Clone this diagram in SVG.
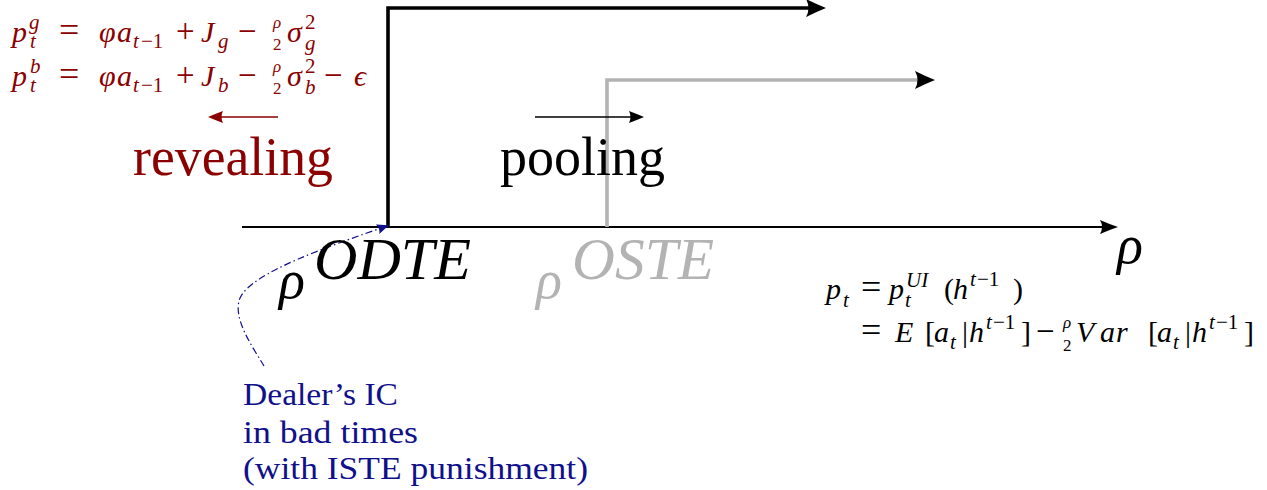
<svg xmlns="http://www.w3.org/2000/svg" width="1267" height="490" viewBox="0 0 1267 490">
<defs>
<marker id="ahBig" viewBox="0 0 20 18" refX="12" refY="9" markerWidth="20" markerHeight="18" markerUnits="userSpaceOnUse" orient="auto">
<path d="M0,0 Q10,5 20,9 Q10,13 0,18 Q5,9 0,0 Z" fill="#000"/>
</marker>
<marker id="ahAxis" viewBox="0 0 18 14" refX="10" refY="7" markerWidth="18" markerHeight="14" markerUnits="userSpaceOnUse" orient="auto">
<path d="M0,0 Q9,4 18,7 Q9,10 0,14 Q4,7 0,0 Z" fill="#000"/>
</marker>
<marker id="ahSmall" viewBox="0 0 15 12" refX="8" refY="6" markerWidth="15" markerHeight="12" markerUnits="userSpaceOnUse" orient="auto">
<path d="M0,0 Q8,3 15,6 Q8,9 0,12 Q3,6 0,0 Z" fill="#000"/>
</marker>
<marker id="ahRed" viewBox="0 0 15 12" refX="8" refY="6" markerWidth="15" markerHeight="12" markerUnits="userSpaceOnUse" orient="auto">
<path d="M0,0 Q8,3 15,6 Q8,9 0,12 Q3,6 0,0 Z" fill="#8b0000"/>
</marker>
<marker id="ahBlue" viewBox="0 0 12 10" refX="10" refY="5" markerWidth="12" markerHeight="10" markerUnits="userSpaceOnUse" orient="auto">
<path d="M0,0 L12,5 L0,10 Q3,5 0,0 Z" fill="#10108c"/>
</marker>
</defs>
<rect width="1267" height="490" fill="#fff"/>
<g id="connectors" fill="none">
<path id="axis" d="M242,227 H1110" stroke="#000" stroke-width="2" marker-end="url(#ahAxis)"/>
<path id="odte-path" d="M388,227 V8 H818" stroke="#000" stroke-width="3.6" marker-end="url(#ahBig)"/>
<path id="oste-path" d="M607,227 V80 H927" stroke="#b3b3b3" stroke-width="3.6" marker-end="url(#ahBig)"/>
<path id="pooling-arrow" d="M535,117 H637" stroke="#000" stroke-width="1.3" marker-end="url(#ahSmall)"/>
<path id="revealing-arrow" d="M278,117 H215" stroke="#8b0000" stroke-width="1.3" marker-end="url(#ahRed)"/>
<path id="ic-curve" d="M264,366 C252,346 232,318 240,298 C252,272 330,246 387,226" stroke="#10108c" stroke-width="1.2" stroke-dasharray="7 3 1.5 3" marker-end="url(#ahBlue)"/>
</g>
<text id="eq-good" font-family="Liberation Serif" fill="#8b0000" font-size="30" x="12" y="42"><tspan font-style="italic" x="12">p</tspan><tspan font-style="italic" font-size="21" x="29" y="29">g</tspan><tspan font-style="italic" font-size="21" x="30" y="48">t</tspan><tspan x="59" y="42" font-size="36">=</tspan><tspan font-style="italic" x="99">φ</tspan><tspan font-style="italic" x="117">a</tspan><tspan font-style="italic" font-size="21" x="133" y="48">t</tspan><tspan font-size="21" x="141" y="48">−1</tspan><tspan x="176" y="42" font-size="33">+</tspan><tspan font-style="italic" x="201">J</tspan><tspan font-style="italic" font-size="21" x="218" y="48">g</tspan><tspan x="238" y="42" font-size="33">−</tspan><tspan font-style="italic" font-size="17" x="273" y="28">ρ</tspan><tspan font-size="17" x="273" y="50">2</tspan><tspan font-style="italic" x="287" y="42">σ</tspan><tspan font-size="21" x="305" y="29">2</tspan><tspan font-style="italic" font-size="21" x="305" y="50">g</tspan></text>
<text id="eq-bad" font-family="Liberation Serif" fill="#8b0000" font-size="30" x="12" y="86"><tspan font-style="italic" x="12">p</tspan><tspan font-style="italic" font-size="21" x="30" y="73">b</tspan><tspan font-style="italic" font-size="21" x="30" y="92">t</tspan><tspan x="59" y="86" font-size="36">=</tspan><tspan font-style="italic" x="99">φ</tspan><tspan font-style="italic" x="117">a</tspan><tspan font-style="italic" font-size="21" x="133" y="92">t</tspan><tspan font-size="21" x="141" y="92">−1</tspan><tspan x="176" y="86" font-size="33">+</tspan><tspan font-style="italic" x="201">J</tspan><tspan font-style="italic" font-size="21" x="218" y="92">b</tspan><tspan x="238" y="86" font-size="33">−</tspan><tspan font-style="italic" font-size="17" x="273" y="72">ρ</tspan><tspan font-size="17" x="273" y="94">2</tspan><tspan font-style="italic" x="287" y="86">σ</tspan><tspan font-size="21" x="305" y="73">2</tspan><tspan font-style="italic" font-size="21" x="305" y="94">b</tspan><tspan x="324" y="86" font-size="33">−</tspan><tspan font-style="italic" x="354">ϵ</tspan></text>
<text id="revealing" font-family="Liberation Serif" fill="#8b0000" font-size="54" x="133" y="175" textLength="200" lengthAdjust="spacingAndGlyphs">revealing</text>
<text id="pooling" font-family="Liberation Serif" fill="#000" font-size="54" x="500" y="175" textLength="165" lengthAdjust="spacingAndGlyphs">pooling</text>
<text id="rho-odte" font-family="Liberation Serif" font-style="italic" fill="#000" font-size="54" x="279" y="298">ρ</text>
<text id="odte" font-family="Liberation Serif" font-style="italic" fill="#000" font-size="60" x="314" y="279" textLength="157" lengthAdjust="spacingAndGlyphs">ODTE</text>
<text id="rho-oste" font-family="Liberation Serif" font-style="italic" fill="#b3b3b3" font-size="54" x="536" y="298">ρ</text>
<text id="oste" font-family="Liberation Serif" font-style="italic" fill="#b3b3b3" font-size="60" x="572" y="279" textLength="142" lengthAdjust="spacingAndGlyphs">OSTE</text>
<text id="rho-axis" font-family="Liberation Serif" font-style="italic" fill="#000" font-size="54" x="1117" y="263">ρ</text>
<text id="eq-price1" font-family="Liberation Serif" fill="#000" font-size="30" x="826" y="299"><tspan font-style="italic" x="826">p</tspan><tspan font-style="italic" font-size="21" x="843" y="307">t</tspan><tspan x="861" y="299" font-size="36">=</tspan><tspan font-style="italic" x="889">p</tspan><tspan font-style="italic" font-size="21" x="906" y="287">UI</tspan><tspan font-style="italic" font-size="21" x="905" y="307">t</tspan><tspan x="944" y="299">(</tspan><tspan font-style="italic" x="953">h</tspan><tspan font-style="italic" font-size="21" x="970" y="286">t</tspan><tspan font-size="21" x="977" y="286">−1</tspan><tspan x="1013" y="299">)</tspan></text>
<text id="eq-price2" font-family="Liberation Serif" fill="#000" font-size="30" x="861" y="342"><tspan x="861" font-size="36">=</tspan><tspan font-style="italic" x="895" y="342">E</tspan><tspan x="925">[</tspan><tspan font-style="italic" x="934">a</tspan><tspan font-style="italic" font-size="21" x="950" y="349">t</tspan><tspan x="962" y="342">|</tspan><tspan font-style="italic" x="969">h</tspan><tspan font-style="italic" font-size="21" x="986" y="329">t</tspan><tspan font-size="21" x="993" y="329">−1</tspan><tspan x="1021" y="342">]</tspan><tspan x="1036" font-size="33">−</tspan><tspan font-style="italic" font-size="17" x="1063" y="328">ρ</tspan><tspan font-size="17" x="1063" y="351">2</tspan><tspan font-style="italic" x="1076" y="342">V</tspan><tspan font-style="italic" x="1100">a</tspan><tspan font-style="italic" x="1116">r</tspan><tspan x="1148">[</tspan><tspan font-style="italic" x="1157">a</tspan><tspan font-style="italic" font-size="21" x="1173" y="349">t</tspan><tspan x="1185" y="342">|</tspan><tspan font-style="italic" x="1192">h</tspan><tspan font-style="italic" font-size="21" x="1209" y="329">t</tspan><tspan font-size="21" x="1216" y="329">−1</tspan><tspan x="1244" y="342">]</tspan></text>
<text id="ic-1" font-family="Liberation Serif" fill="#10108c" font-size="31" x="243" y="405" textLength="155" lengthAdjust="spacingAndGlyphs">Dealer’s IC</text>
<text id="ic-2" font-family="Liberation Serif" fill="#10108c" font-size="31" x="243" y="443" textLength="175" lengthAdjust="spacingAndGlyphs">in bad times</text>
<text id="ic-3" font-family="Liberation Serif" fill="#10108c" font-size="31" x="243" y="479" textLength="345" lengthAdjust="spacingAndGlyphs">(with ISTE punishment)</text>
</svg>
